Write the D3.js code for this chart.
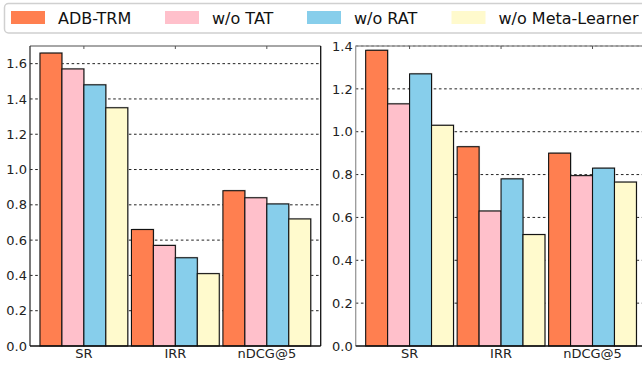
<!DOCTYPE html>
<html>
<head>
<meta charset="utf-8">
<script src="https://cdn.jsdelivr.net/npm/d3@7"></script>
<style>
  html, body { margin: 0; padding: 0; background: #fff; }
  svg { display: block; font-family: "DejaVu Sans", sans-serif; }
</style>
</head>
<body>
<svg id="chart" width="642" height="365"></svg>
<script>
// Metrics on the x axis
const categories = ["SR", "IRR", "nDCG@5"];
// Model variants (legend order)
const seriesNames = ["ADB-TRM", "w/o TAT", "w/o RAT", "w/o Meta-Learner"];
const seriesColors = ["#FF7F50", "#FFC0CB", "#87CEEB", "#FFFACD"];

// Left panel values, one array per variant (SR, IRR, nDCG@5)
const leftADB = [1.66, 0.66, 0.88];
const leftTAT = [1.57, 0.57, 0.84];
const leftRAT = [1.48, 0.50, 0.805];
const leftMeta = [1.35, 0.41, 0.72];

// Right panel values
const rightADB = [1.38, 0.93, 0.90];
const rightTAT = [1.13, 0.63, 0.795];
const rightRAT = [1.27, 0.78, 0.83];
const rightMeta = [1.03, 0.52, 0.765];

const leftTicks = [0.0, 0.2, 0.4, 0.6, 0.8, 1.0, 1.2, 1.4, 1.6];
const rightTicks = [0.0, 0.2, 0.4, 0.6, 0.8, 1.0, 1.2, 1.4];

const svg = d3.select("#chart");

function drawPanel(cfg) {
  const { x0, x1, yTop, yBottom, yMax, ticks, series, spine } = cfg;
  const g = svg.append("g");
  const barW = 0.24;
  const x = d3.scaleLinear().domain([-0.589, 2.589]).range([x0, x1]);
  const y = d3.scaleLinear().domain([0, yMax]).range([yBottom, yTop]);

  // dashed horizontal grid
  g.selectAll("line.grid")
    .data(ticks.filter(t => t > 0))
    .enter().append("line")
    .attr("x1", x0).attr("x2", Math.min(x1, 642))
    .attr("y1", d => y(d)).attr("y2", d => y(d))
    .attr("stroke", "#222").attr("stroke-width", 1)
    .attr("stroke-dasharray", "2.6,2.6");

  // bars: each variant j within each metric group i
  series.forEach((vals, j) => {
    const cx = i => x(i + (j - 1.5) * barW);
    const halfW = x(barW / 2) - x(0);
    // soft shadow behind bar
    g.selectAll(null).data(vals).enter().append("rect")
      .attr("x", (d, i) => cx(i) - halfW + 1)
      .attr("y", d => y(d) - 1)
      .attr("width", halfW * 2)
      .attr("height", d => y(0) - y(d))
      .attr("fill", "#999").attr("opacity", 0.45);
    g.selectAll(null).data(vals).enter().append("rect")
      .attr("x", (d, i) => cx(i) - halfW)
      .attr("y", d => y(d))
      .attr("width", halfW * 2)
      .attr("height", d => y(0) - y(d))
      .attr("fill", seriesColors[j])
      .attr("stroke", "#111").attr("stroke-width", 1.1);
  });

  // spines
  g.append("line").attr("x1", x0).attr("x2", x1).attr("y1", yTop).attr("y2", yTop)
    .attr("stroke", spine.top).attr("stroke-width", 1.3);
  g.append("line").attr("x1", x0).attr("x2", x0).attr("y1", yTop).attr("y2", yBottom)
    .attr("stroke", spine.left).attr("stroke-width", 1.3);
  g.append("line").attr("x1", x1).attr("x2", x1).attr("y1", yTop).attr("y2", yBottom)
    .attr("stroke", "#111").attr("stroke-width", 1.3);
  g.append("line").attr("x1", x0).attr("x2", x1).attr("y1", yBottom).attr("y2", yBottom)
    .attr("stroke", "#111").attr("stroke-width", 1.3);

  // inward ticks on the top spine at group centres
  g.selectAll("line.tt").data(categories).enter().append("line")
    .attr("x1", (d, i) => x(i)).attr("x2", (d, i) => x(i))
    .attr("y1", yTop).attr("y2", yTop + 3)
    .attr("stroke", "#555").attr("stroke-width", 1);

  // y axis labels
  const yAxis = d3.axisLeft(y).tickValues(ticks).tickFormat(d3.format(".1f"))
    .tickSize(0).tickPadding(3);
  const ya = g.append("g").attr("transform", `translate(${x0},0)`).call(yAxis);
  ya.select(".domain").remove();
  ya.selectAll("text").attr("font-size", 13).attr("fill", "#222")
    .attr("font-family", "DejaVu Sans");

  // x axis labels
  g.selectAll("text.cat").data(categories).enter().append("text")
    .attr("x", (d, i) => x(i)).attr("y", yBottom + 12)
    .attr("text-anchor", "middle").attr("font-size", 13).attr("fill", "#222")
    .text(d => d);
}

drawPanel({
  x0: 30, x1: 320.7, yTop: 46, yBottom: 346, yMax: 1.7, ticks: leftTicks,
  series: [leftADB, leftTAT, leftRAT, leftMeta],
  spine: { top: "#888", left: "#333" }
});
drawPanel({
  x0: 355.7, x1: 646.4, yTop: 46, yBottom: 346, yMax: 1.4, ticks: rightTicks,
  series: [rightADB, rightTAT, rightRAT, rightMeta],
  spine: { top: "#999", left: "#999" }
});

// legend across the top
const legend = svg.append("g");
legend.append("rect").attr("x", 4.5).attr("y", 3.5).attr("width", 660).attr("height", 29.5)
  .attr("rx", 4).attr("fill", "#fff").attr("stroke", "#d0d0d0").attr("stroke-width", 1.5);
const legendX = [11, 165, 307, 451.5];
seriesNames.forEach((name, j) => {
  legend.append("rect").attr("x", legendX[j]).attr("y", 11).attr("width", 34).attr("height", 13)
    .attr("fill", seriesColors[j]);
  legend.append("text").attr("x", legendX[j] + 47).attr("y", 23.5)
    .attr("font-size", 16).attr("fill", "#111").text(name);
});
</script>
</body>
</html>
